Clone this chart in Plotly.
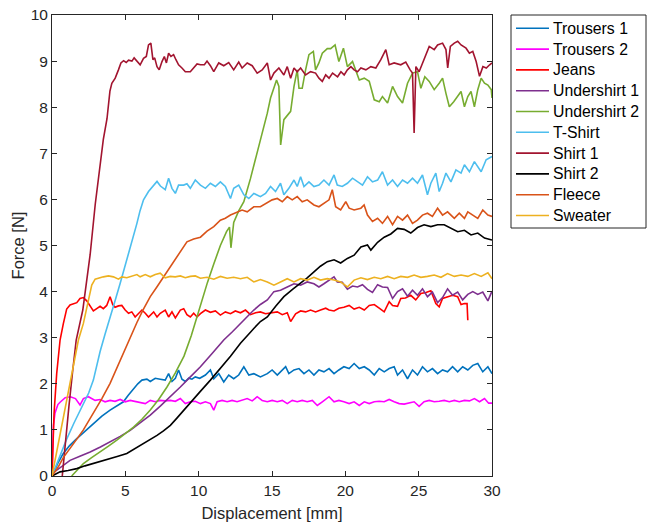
import plotly.graph_objects as go

# ---------------- data ----------------
trousers1_x = [0, 0.4, 0.77, 1.2, 1.69, 2.3, 2.82, 3.4, 3.96, 4.4, 4.87, 5.2, 5.56, 5.85, 6.13, 6.47, 6.7, 7.04, 7.38, 7.72, 7.95, 8.18, 8.41, 8.63, 8.86, 9.09, 9.32, 9.54, 9.77, 10.07, 10.46, 10.8, 11.03, 11.37, 11.71, 12.05, 12.39, 12.73, 13.08, 13.42, 13.76, 14.21, 14.68, 15.01, 15.36, 15.7, 15.93, 16.15, 16.5, 16.84, 17.18, 17.52, 17.86, 18.2, 18.54, 18.89, 19.23, 19.56, 19.9, 20.26, 20.6, 20.95, 21.29, 21.63, 21.97, 22.31, 22.65, 22.99, 23.33, 23.56, 23.9, 24.24, 24.58, 24.92, 25.26, 25.6, 25.94, 26.29, 26.63, 26.97, 27.31, 27.66, 28.0, 28.35, 28.69, 29.03, 29.37, 29.72, 30.0]
trousers1_y = [0, 0.28, 0.49, 0.66, 0.81, 0.98, 1.14, 1.3, 1.43, 1.52, 1.61, 1.75, 1.9, 2.0, 2.08, 2.1, 2.05, 2.12, 2.1, 2.08, 2.22, 2.05, 2.12, 2.3, 2.1, 2.05, 2.12, 2.1, 2.15, 2.12, 2.19, 2.3, 2.11, 2.22, 2.04, 2.19, 2.11, 2.19, 2.37, 2.19, 2.22, 2.15, 2.22, 2.3, 2.19, 2.3, 2.37, 2.22, 2.3, 2.33, 2.22, 2.3, 2.19, 2.3, 2.26, 2.33, 2.22, 2.3, 2.37, 2.33, 2.44, 2.33, 2.37, 2.3, 2.19, 2.33, 2.26, 2.33, 2.37, 2.19, 2.3, 2.11, 2.3, 2.19, 2.37, 2.26, 2.33, 2.22, 2.3, 2.26, 2.37, 2.26, 2.37, 2.3, 2.4, 2.44, 2.26, 2.37, 2.22]

trousers2_x = [0, 0.05, 0.1, 0.2, 0.4, 0.55, 0.9, 1.25, 1.6, 1.91, 2.14, 2.48, 2.73, 2.94, 3.28, 3.62, 3.96, 4.3, 4.65, 4.99, 5.33, 5.67, 6.01, 6.36, 6.7, 7.04, 7.38, 7.72, 8.07, 8.41, 8.75, 9.09, 9.43, 9.77, 10.12, 10.46, 10.8, 11.03, 11.26, 11.6, 11.94, 12.28, 12.62, 12.96, 13.31, 13.65, 13.99, 14.33, 14.68, 15.01, 15.36, 15.7, 16.04, 16.38, 16.72, 17.06, 17.4, 17.75, 18.09, 18.43, 18.89, 19.23, 19.56, 19.9, 20.26, 20.6, 20.95, 21.29, 21.63, 21.97, 22.31, 22.65, 22.99, 23.33, 23.67, 24.01, 24.35, 24.69, 25.03, 25.37, 25.72, 26.06, 26.4, 26.74, 27.09, 27.43, 27.77, 28.12, 28.46, 28.8, 29.15, 29.49, 29.77, 30.0]
trousers2_y = [0, 0.6, 1.1, 1.36, 1.55, 1.6, 1.7, 1.72, 1.68, 1.54, 1.68, 1.72, 1.68, 1.64, 1.66, 1.61, 1.64, 1.62, 1.66, 1.61, 1.64, 1.62, 1.59, 1.57, 1.64, 1.61, 1.64, 1.63, 1.64, 1.62, 1.68, 1.57, 1.61, 1.62, 1.57, 1.61, 1.57, 1.43, 1.61, 1.64, 1.61, 1.64, 1.61, 1.64, 1.68, 1.63, 1.72, 1.64, 1.61, 1.64, 1.61, 1.64, 1.57, 1.64, 1.61, 1.64, 1.61, 1.64, 1.53, 1.61, 1.72, 1.61, 1.64, 1.61, 1.57, 1.61, 1.53, 1.61, 1.57, 1.61, 1.62, 1.61, 1.66, 1.61, 1.57, 1.56, 1.58, 1.61, 1.51, 1.61, 1.64, 1.61, 1.62, 1.64, 1.61, 1.64, 1.61, 1.64, 1.63, 1.68, 1.61, 1.68, 1.58, 1.58]

jeans_x = [0, 0.05, 0.14, 0.32, 0.55, 0.77, 1.0, 1.23, 1.46, 1.69, 1.91, 2.14, 2.37, 2.6, 2.82, 3.05, 3.28, 3.5, 3.73, 3.96, 4.14, 4.3, 4.53, 4.76, 4.99, 5.22, 5.44, 5.67, 5.9, 6.13, 6.36, 6.58, 6.93, 7.16, 7.38, 7.72, 7.95, 8.18, 8.41, 8.75, 8.98, 9.2, 9.43, 9.66, 9.89, 10.12, 10.46, 10.8, 11.14, 11.48, 11.82, 12.17, 12.5, 12.85, 13.19, 13.53, 13.88, 14.21, 14.56, 14.9, 15.36, 15.7, 16.04, 16.27, 16.61, 16.95, 17.29, 17.63, 17.97, 18.31, 18.66, 18.89, 19.23, 19.56, 19.9, 20.26, 20.6, 20.95, 21.29, 21.63, 21.97, 22.31, 22.65, 22.99, 23.22, 23.56, 23.78, 24.1, 24.46, 24.8, 25.15, 25.5, 25.83, 26.17, 26.4, 26.63, 26.97, 27.31, 27.66, 27.89, 28.12, 28.3, 28.35]
jeans_y = [0, 0.6, 1.36, 2.22, 2.95, 3.3, 3.62, 3.71, 3.74, 3.76, 3.85, 3.87, 3.8, 3.7, 3.58, 3.63, 3.68, 3.63, 3.7, 3.89, 3.72, 3.66, 3.69, 3.7, 3.6, 3.53, 3.56, 3.45, 3.53, 3.6, 3.53, 3.45, 3.56, 3.45, 3.53, 3.6, 3.45, 3.56, 3.43, 3.6, 3.63, 3.5, 3.45, 3.53, 3.45, 3.52, 3.6, 3.55, 3.58, 3.49, 3.56, 3.52, 3.58, 3.54, 3.6, 3.5, 3.54, 3.56, 3.52, 3.54, 3.56, 3.5, 3.54, 3.35, 3.52, 3.58, 3.56, 3.6, 3.56, 3.6, 3.64, 3.6, 3.58, 3.64, 3.66, 3.7, 3.62, 3.66, 3.6, 3.7, 3.72, 3.64, 3.56, 3.78, 3.7, 3.68, 3.85, 3.86, 3.92, 3.82, 3.96, 3.98, 4.02, 3.74, 3.67, 3.85, 3.88, 3.92, 3.89, 3.72, 3.74, 3.74, 3.38]

undershirt1_x = [0, 0.6, 1.23, 1.9, 2.6, 3.3, 3.96, 4.65, 5.33, 6.0, 6.7, 7.4, 8.07, 8.75, 9.43, 10.12, 10.9, 11.71, 12.3, 12.85, 13.3, 13.76, 14.21, 14.68, 15.13, 15.58, 16.04, 16.5, 16.95, 17.4, 17.86, 18.2, 18.54, 18.89, 19.23, 19.45, 19.79, 20.14, 20.49, 20.83, 21.17, 21.51, 21.85, 22.2, 22.53, 22.88, 23.22, 23.56, 23.9, 24.24, 24.58, 24.92, 25.26, 25.6, 25.94, 26.29, 26.63, 26.97, 27.31, 27.66, 28.0, 28.35, 28.69, 29.03, 29.37, 29.72, 30.0]
undershirt1_y = [0.05, 0.2, 0.34, 0.43, 0.52, 0.63, 0.74, 0.86, 0.99, 1.15, 1.32, 1.52, 1.72, 1.93, 2.15, 2.37, 2.65, 2.95, 3.13, 3.31, 3.46, 3.6, 3.72, 3.82, 4.0, 4.03, 4.1, 4.17, 4.14, 4.21, 4.17, 4.1, 4.17, 4.24, 4.32, 4.21, 4.2, 4.05, 4.12, 4.1, 4.15, 4.05, 3.98, 4.15, 4.1, 4.09, 3.85, 4.0, 4.06, 3.9, 4.03, 3.92, 4.06, 3.89, 3.99, 3.76, 3.87, 4.06, 3.92, 3.99, 3.82, 3.94, 4.0, 3.94, 3.99, 3.8, 4.01]

undershirt2_x = [1.34, 2.14, 2.7, 3.28, 3.85, 4.42, 5.0, 5.56, 6.13, 6.7, 7.27, 7.84, 8.4, 9.0, 9.5, 10.1, 10.6, 11.03, 11.48, 11.9, 12.1, 12.2, 12.39, 12.73, 13.08, 13.53, 13.99, 14.35, 14.68, 14.9, 15.13, 15.31, 15.47, 15.59, 15.81, 16.04, 16.27, 16.5, 16.72, 16.84, 17.06, 17.29, 17.52, 17.82, 17.97, 18.2, 18.43, 18.77, 19.0, 19.3, 19.56, 19.87, 20.14, 20.49, 20.72, 20.95, 21.29, 21.63, 21.97, 22.31, 22.53, 22.88, 23.22, 23.56, 23.9, 24.24, 24.58, 24.92, 25.15, 25.42, 25.72, 26.06, 26.4, 26.63, 26.86, 27.09, 27.39, 27.66, 27.89, 28.12, 28.35, 28.57, 28.8, 29.03, 29.26, 29.49, 29.72, 29.95, 30.0]
undershirt2_y = [0, 0.27, 0.4, 0.52, 0.65, 0.78, 0.92, 1.06, 1.23, 1.43, 1.66, 1.93, 2.23, 2.6, 3.05, 3.7, 4.2, 4.6, 5.0, 5.3, 5.4, 4.95, 5.5, 5.75, 5.95, 6.45, 7.0, 7.45, 7.87, 8.2, 8.45, 8.59, 8.45, 7.18, 7.73, 7.83, 7.91, 8.45, 8.81, 8.41, 8.41, 8.81, 9.14, 9.21, 8.81, 8.96, 9.17, 9.27, 9.27, 9.35, 8.99, 9.28, 8.88, 8.99, 8.77, 8.59, 8.63, 8.56, 8.16, 8.12, 8.23, 8.09, 8.45, 8.23, 8.09, 8.52, 8.74, 8.77, 8.41, 8.66, 8.56, 8.38, 8.52, 8.63, 8.3, 8.01, 8.12, 8.23, 8.34, 8.01, 8.23, 8.34, 8.01, 8.38, 8.63, 8.52, 8.48, 8.38, 8.2]

tshirt_x = [0, 0.5, 1.0, 1.5, 2.14, 2.5, 2.82, 3.28, 3.62, 3.96, 4.3, 4.65, 5.0, 5.33, 5.56, 5.79, 6.0, 6.24, 6.58, 6.93, 7.16, 7.39, 7.72, 7.95, 8.18, 8.41, 8.63, 8.98, 9.2, 9.43, 9.77, 10.12, 10.46, 10.8, 11.14, 11.48, 11.82, 12.17, 12.39, 12.73, 13.08, 13.42, 13.76, 14.21, 14.56, 14.9, 15.24, 15.58, 15.81, 16.15, 16.5, 16.72, 16.95, 17.18, 17.52, 17.86, 18.2, 18.54, 18.89, 19.23, 19.45, 19.79, 20.14, 20.49, 20.83, 21.17, 21.51, 21.85, 22.2, 22.53, 22.88, 23.22, 23.56, 23.9, 24.24, 24.58, 24.92, 25.26, 25.6, 25.83, 26.17, 26.4, 26.63, 26.86, 27.2, 27.54, 27.89, 28.12, 28.46, 28.8, 29.26, 29.6, 30.0]
tshirt_y = [0, 0.4, 0.8, 1.15, 1.55, 1.8, 2.08, 2.7, 3.08, 3.42, 3.8, 4.18, 4.57, 4.97, 5.25, 5.48, 5.75, 5.99, 6.17, 6.31, 6.39, 6.29, 6.21, 6.46, 6.24, 6.13, 6.31, 6.31, 6.34, 6.24, 6.42, 6.31, 6.24, 6.35, 6.28, 6.38, 6.28, 6.02, 6.24, 6.31, 6.1, 6.02, 6.13, 6.06, 6.13, 6.28, 6.17, 6.35, 6.1, 6.24, 6.42, 6.28, 6.49, 6.28, 6.38, 6.28, 6.31, 6.42, 6.31, 6.53, 6.31, 6.28, 6.35, 6.46, 6.38, 6.31, 6.49, 6.38, 6.42, 6.6, 6.31, 6.42, 6.28, 6.42, 6.35, 6.46, 6.35, 6.53, 6.1, 6.35, 6.57, 6.17, 6.35, 6.57, 6.38, 6.64, 6.57, 6.75, 6.6, 6.82, 6.6, 6.86, 6.93]

shirt1_x = [0.7, 0.9, 1.15, 1.4, 1.65, 2.1, 2.6, 2.95, 3.2, 3.5, 3.75, 3.95, 4.08, 4.31, 4.53, 4.7, 4.88, 5.06, 5.22, 5.45, 5.6, 5.79, 6.01, 6.24, 6.43, 6.58, 6.74, 6.88, 7.0, 7.16, 7.31, 7.5, 7.66, 7.8, 7.95, 8.11, 8.29, 8.45, 8.63, 8.86, 9.09, 9.43, 9.66, 9.89, 10.12, 10.39, 10.57, 10.8, 11.03, 11.37, 11.71, 12.05, 12.39, 12.73, 12.96, 13.31, 13.65, 13.99, 14.33, 14.68, 14.9, 15.13, 15.47, 15.81, 16.04, 16.27, 16.5, 16.72, 16.95, 17.29, 17.63, 17.97, 18.2, 18.43, 18.66, 18.89, 19.13, 19.47, 19.7, 19.92, 20.14, 20.38, 20.6, 20.83, 21.06, 21.4, 21.74, 22.08, 22.42, 22.76, 22.99, 23.33, 23.78, 24.12, 24.42, 24.58, 24.69, 24.81, 25.03, 25.37, 25.72, 26.06, 26.29, 26.63, 26.86, 26.98, 27.16, 27.43, 27.66, 27.89, 28.23, 28.46, 28.69, 28.92, 29.15, 29.38, 29.61, 29.84, 30.0]
shirt1_y = [0, 0.75, 1.5, 2.25, 2.95, 3.6, 4.8, 5.9, 6.6, 7.3, 7.75, 8.35, 8.52, 8.63, 8.81, 8.96, 9.01, 8.97, 9.02, 9.0, 9.07, 9.0, 8.92, 9.06, 9.1, 9.35, 9.39, 9.03, 9.07, 8.88, 8.81, 8.99, 9.1, 8.96, 9.17, 9.1, 9.14, 9.03, 8.92, 8.85, 8.77, 8.77, 8.85, 8.94, 8.92, 8.92, 9.0, 8.9, 8.77, 8.96, 8.9, 8.97, 8.81, 8.98, 8.85, 8.96, 8.9, 8.74, 8.81, 8.96, 8.59, 8.74, 8.85, 8.7, 8.88, 8.63, 8.85, 8.77, 8.85, 8.7, 8.77, 8.74, 8.63, 8.56, 8.7, 8.63, 8.74, 8.66, 8.77, 8.7, 8.81, 8.88, 8.81, 8.77, 8.85, 8.81, 8.88, 8.85, 9.03, 9.25, 8.92, 8.96, 8.92, 8.98, 8.81, 8.74, 7.44, 8.88, 8.77, 9.03, 9.32, 9.25, 9.35, 9.39, 9.25, 8.85, 9.32, 9.39, 9.43, 9.35, 9.28, 9.17, 9.21, 8.99, 8.67, 8.88, 8.85, 8.92, 8.96]

shirt2_x = [0, 0.55, 1.1, 1.69, 2.25, 2.82, 3.4, 3.96, 4.5, 5.1, 5.7, 6.24, 6.7, 7.16, 7.6, 8.07, 8.5, 8.98, 9.3, 9.66, 10.07, 10.8, 11.48, 12.17, 12.85, 13.31, 13.76, 14.21, 14.68, 15.25, 15.81, 16.4, 16.95, 17.4, 17.86, 18.3, 18.77, 19.23, 19.68, 20.14, 20.6, 21.06, 21.51, 21.74, 22.2, 22.65, 23.1, 23.56, 24.01, 24.46, 24.92, 25.37, 25.83, 26.29, 26.74, 27.2, 27.66, 28.12, 28.57, 29.03, 29.49, 30.0]
shirt2_y = [0.0, 0.09, 0.12, 0.16, 0.22, 0.27, 0.33, 0.38, 0.43, 0.49, 0.6, 0.7, 0.79, 0.88, 0.98, 1.1, 1.25, 1.43, 1.54, 1.68, 1.82, 2.08, 2.33, 2.6, 2.88, 3.05, 3.2, 3.35, 3.45, 3.68, 3.89, 4.05, 4.18, 4.3, 4.43, 4.55, 4.65, 4.69, 4.62, 4.72, 4.79, 4.97, 5.01, 4.9, 5.07, 5.18, 5.25, 5.37, 5.35, 5.27, 5.39, 5.45, 5.41, 5.45, 5.45, 5.37, 5.3, 5.33, 5.23, 5.27, 5.16, 5.12]

fleece_x = [0, 0.43, 0.77, 1.2, 1.69, 2.14, 2.82, 3.4, 3.96, 4.42, 4.87, 5.22, 5.79, 6.2, 6.7, 7.15, 7.61, 8.06, 8.52, 8.9, 9.2, 9.66, 10.12, 10.57, 11.03, 11.48, 11.82, 12.17, 12.5, 12.96, 13.31, 13.76, 14.21, 14.68, 15.01, 15.36, 15.7, 16.04, 16.38, 16.72, 17.06, 17.4, 17.86, 18.2, 18.54, 18.89, 19.11, 19.34, 19.68, 20.03, 20.26, 20.6, 21.06, 21.28, 21.51, 21.85, 22.2, 22.53, 22.88, 23.22, 23.56, 23.9, 24.24, 24.58, 24.92, 25.26, 25.6, 25.94, 26.29, 26.63, 26.97, 27.43, 27.77, 28.12, 28.35, 28.69, 29.03, 29.37, 29.72, 30.0]
fleece_y = [0, 0.2, 0.4, 0.6, 0.8, 1.0, 1.36, 1.68, 2.01, 2.35, 2.66, 2.9, 3.33, 3.6, 3.89, 4.1, 4.32, 4.54, 4.76, 4.95, 5.08, 5.14, 5.18, 5.31, 5.41, 5.55, 5.59, 5.66, 5.7, 5.77, 5.73, 5.84, 5.84, 5.92, 5.99, 6.02, 5.95, 6.06, 5.99, 6.06, 5.95, 5.99, 5.88, 5.84, 5.92, 5.99, 6.21, 5.84, 5.77, 5.95, 5.81, 5.77, 5.81, 5.88, 5.66, 5.52, 5.59, 5.48, 5.63, 5.45, 5.63, 5.55, 5.66, 5.48, 5.55, 5.66, 5.7, 5.63, 5.81, 5.66, 5.73, 5.59, 5.7, 5.59, 5.73, 5.66, 5.59, 5.77, 5.66, 5.63]

sweater_x = [0, 0.55, 1.11, 1.5, 1.8, 2.14, 2.48, 2.71, 2.94, 3.28, 3.5, 3.85, 4.19, 4.53, 4.76, 5.1, 5.44, 5.79, 6.01, 6.36, 6.7, 7.04, 7.38, 7.72, 8.06, 8.4, 8.75, 9.09, 9.43, 9.77, 10.12, 10.57, 11.03, 11.48, 11.94, 12.39, 12.85, 13.31, 13.76, 14.21, 14.68, 15.13, 15.58, 16.04, 16.5, 16.95, 17.4, 17.86, 18.31, 18.77, 19.23, 19.68, 20.14, 20.6, 21.06, 21.51, 21.97, 22.42, 22.88, 23.33, 23.78, 24.24, 24.69, 25.15, 25.6, 26.06, 26.52, 26.97, 27.43, 27.89, 28.35, 28.8, 29.26, 29.72, 30.0]
sweater_y = [0, 0.92, 1.86, 2.5, 2.95, 3.31, 3.82, 4.14, 4.27, 4.31, 4.32, 4.34, 4.32, 4.27, 4.32, 4.3, 4.33, 4.37, 4.32, 4.37, 4.32, 4.37, 4.4, 4.3, 4.33, 4.32, 4.34, 4.3, 4.33, 4.34, 4.29, 4.31, 4.27, 4.33, 4.29, 4.31, 4.28, 4.31, 4.21, 4.26, 4.21, 4.14, 4.21, 4.28, 4.21, 4.28, 4.25, 4.31, 4.25, 4.28, 4.25, 4.21, 4.1, 4.25, 4.3, 4.26, 4.31, 4.28, 4.33, 4.28, 4.33, 4.31, 4.36, 4.31, 4.33, 4.36, 4.31, 4.39, 4.33, 4.36, 4.33, 4.39, 4.33, 4.41, 4.28]

series_names = ["Trousers 1", "Trousers 2", "Jeans", "Undershirt 1", "Undershirt 2",
                "T-Shirt", "Shirt 1", "Shirt 2", "Fleece", "Sweater"]
series_x = [trousers1_x, trousers2_x, jeans_x, undershirt1_x, undershirt2_x,
            tshirt_x, shirt1_x, shirt2_x, fleece_x, sweater_x]
series_y = [trousers1_y, trousers2_y, jeans_y, undershirt1_y, undershirt2_y,
            tshirt_y, shirt1_y, shirt2_y, fleece_y, sweater_y]
series_colors = ["#0072BD", "#FF00FF", "#FF0000", "#7E2F8E", "#77AC30",
                 "#4DBEEE", "#A2142F", "#000000", "#D95319", "#EDB120"]

x_ticks = [0, 5, 10, 15, 20, 25, 30]
y_ticks = [0, 1, 2, 3, 4, 5, 6, 7, 8, 9, 10]

for n, xs, ys in zip(series_names, series_x, series_y):
    assert len(xs) == len(ys), (n, len(xs), len(ys))

# ---------------- figure ----------------
W, H = 647, 527
ML, MT = 52, 15
PW, PH = 440, 461
MR, MB = W - ML - PW, H - MT - PH

fig = go.Figure()
for n, xs, ys, c in zip(series_names, series_x, series_y, series_colors):
    fig.add_trace(go.Scatter(x=xs, y=ys, mode="lines", name=n,
                             line=dict(color=c, width=1.6), showlegend=False))

# legend drawn as a boxed list (pixel layout converted to paper coords)
def px_x(p):
    return (p - ML) / PW

def px_y(p):
    return (H - MB - p) / PH

shapes = [dict(type="rect", xref="paper", yref="paper",
               x0=px_x(511), x1=px_x(646), y0=px_y(228), y1=px_y(15),
               line=dict(color="#262626", width=1), fillcolor="white", layer="above")]
annotations = []
for i, (n, c) in enumerate(zip(series_names, series_colors)):
    yc = 28.3 + i * 20.8
    shapes.append(dict(type="line", xref="paper", yref="paper",
                       x0=px_x(516), x1=px_x(549), y0=px_y(yc), y1=px_y(yc),
                       line=dict(color=c, width=1.6), layer="above"))
    annotations.append(dict(text=n, xref="paper", yref="paper",
                            x=px_x(551), y=px_y(yc), xanchor="left", yanchor="middle",
                            showarrow=False, font=dict(size=15.8, color="#000000")))

axis_col = "#262626"
fig.update_layout(
    width=W, height=H,
    margin=dict(l=ML, r=MR, t=MT, b=MB),
    plot_bgcolor="white", paper_bgcolor="white",
    font=dict(family="Liberation Sans, Arial, sans-serif", size=15, color=axis_col),
    showlegend=False,
    shapes=shapes,
    annotations=annotations,
    xaxis=dict(range=[0, 30], tickvals=x_ticks, ticks="inside", ticklen=5,
               showline=True, mirror="ticks", linecolor=axis_col, linewidth=1,
               tickcolor=axis_col, showgrid=False, zeroline=False, automargin=False,
               ticklabeloverflow="allow", tickfont=dict(size=15.5),
               title=dict(text="Displacement [mm]", font=dict(size=16.5), standoff=9)),
    yaxis=dict(range=[0, 10], tickvals=y_ticks, ticks="inside", ticklen=5,
               showline=True, mirror="ticks", linecolor=axis_col, linewidth=1,
               tickcolor=axis_col, showgrid=False, zeroline=False, automargin=False,
               ticklabeloverflow="allow", tickfont=dict(size=15.5),
               title=dict(text="Force [N]", font=dict(size=16.5), standoff=1)),
)

# remove the page's default 8 px body margin so the figure fills the window
fig.write_html("out.html",
               config={"displayModeBar": False},
               post_script="document.body.style.margin='0';document.body.style.overflow='hidden';")
